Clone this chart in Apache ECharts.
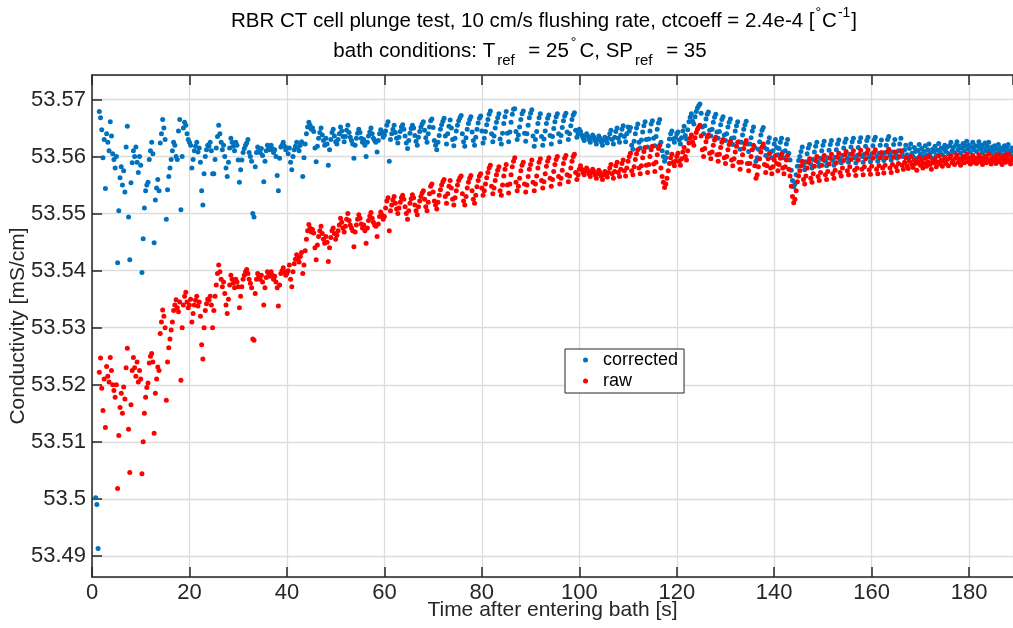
<!DOCTYPE html>
<html><head><meta charset="utf-8">
<script src="https://cdn.jsdelivr.net/npm/echarts@6/dist/echarts.min.js"></script>
<style>html,body{margin:0;padding:0;background:#fff}#c{width:1013px;height:628px}</style>
</head><body><div id="c"></div>
<script>
// Sampling: each part starts at partStart[k] and values are spaced timeStep seconds apart
const timeStep = 0.25;
const partStart = [0.25, 40.25, 80.25, 120.25, 160.25];
const xTicks = [0, 20, 40, 60, 80, 100, 120, 140, 160, 180];
const seriesNames = ['corrected', 'raw'];

const corrected1 = [
null,null,53.5002,53.4990,53.4913,53.5679,53.5668,53.5647,
53.5598,53.5630,53.5544,53.5640,53.5625,53.5610,53.5661,53.5636,
53.5605,53.5595,53.5580,53.5600,53.5414,53.5505,53.5563,53.5582,
53.5550,53.5575,53.5538,53.5617,53.5653,53.5494,53.5419,53.5554,
53.5589,53.5610,53.5600,53.5617,53.5590,53.5572,53.5600,53.5585,
53.5397,53.5456,53.5510,53.5540,53.5550,53.5555,53.5595,53.5610,
53.5625,53.5605,53.5449,53.5524,53.5545,53.5560,53.5540,53.5624,
53.5640,53.5665,53.5650,53.5630,53.5490,53.5542,53.5565,53.5580,
53.5595,53.5610,53.5625,53.5620,53.5600,53.5595,53.5645,53.5665,
53.5507,53.5600,53.5650,53.5660,53.5655,53.5640,53.5630,53.5625,
53.5620,53.5580,53.5595,53.5610,53.5618,53.5625,53.5608,53.5615,
53.5590,53.5540,53.5515,53.5570,53.5600,53.5612,53.5620,53.5618,
53.5625,53.5610,53.5570,53.5570,53.5595,53.5615,53.5635,53.5655,
53.5640,53.5625,53.5612,53.5620,53.5600,53.5580,53.5565,53.5590,
53.5615,53.5632,53.5625,53.5618,53.5610,53.5625,53.5620,53.5594,
53.5555,53.5577,53.5594,53.5607,53.5614,53.5620,53.5624,53.5630,
53.5607,53.5600,53.5592,53.5500,53.5494,53.5582,53.5607,53.5617,
53.5612,53.5607,53.5614,53.5602,53.5556,53.5592,53.5610,53.5620,
53.5617,53.5612,53.5620,53.5614,53.5607,53.5612,53.5600,53.5567,
53.5540,53.5597,53.5617,53.5620,53.5625,53.5618,53.5612,53.5615];
const raw1 = [
null,null,null,null,null,53.5222,53.5247,53.5194,
53.5155,53.5210,53.5125,53.5232,53.5215,53.5205,53.5248,53.5225,
53.5200,53.5190,53.5178,53.5200,53.5018,53.5111,53.5160,53.5185,
53.5150,53.5196,53.5175,53.5230,53.5264,53.5122,53.5046,53.5165,
53.5225,53.5248,53.5230,53.5215,53.5240,53.5205,53.5225,53.5210,
53.5044,53.5100,53.5150,53.5178,53.5195,53.5203,53.5238,53.5250,
53.5255,53.5240,53.5115,53.5185,53.5210,53.5231,53.5225,53.5290,
53.5310,53.5331,53.5320,53.5300,53.5173,53.5240,53.5265,53.5280,
53.5296,53.5310,53.5330,53.5340,53.5349,53.5335,53.5328,53.5345,
53.5208,53.5300,53.5340,53.5355,53.5362,53.5345,53.5335,53.5340,
53.5350,53.5310,53.5325,53.5340,53.5348,53.5355,53.5338,53.5345,
53.5320,53.5270,53.5245,53.5300,53.5330,53.5342,53.5350,53.5348,
53.5355,53.5340,53.5300,53.5330,53.5355,53.5375,53.5395,53.5410,
53.5398,53.5385,53.5372,53.5380,53.5360,53.5340,53.5325,53.5350,
53.5375,53.5392,53.5385,53.5378,53.5370,53.5385,53.5380,53.5372,
53.5335,53.5355,53.5372,53.5385,53.5392,53.5398,53.5402,53.5395,
53.5385,53.5378,53.5370,53.5280,53.5278,53.5360,53.5385,53.5395,
53.5390,53.5385,53.5392,53.5380,53.5340,53.5370,53.5388,53.5398,
53.5395,53.5390,53.5398,53.5392,53.5385,53.5390,53.5380,53.5370,
53.5338,53.5375,53.5395,53.5400,53.5405,53.5398,53.5392,53.5395];

const corrected2 = [
53.5605,53.5615,53.5590,53.5577,53.5600,53.5612,53.5618,53.5625,
53.5616,53.5610,53.5620,53.5626,53.5565,53.5598,53.5622,53.5640,
53.5652,53.5660,53.5655,53.5648,53.5650,53.5644,53.5615,53.5591,
53.5618,53.5632,53.5642,53.5650,53.5638,53.5628,53.5620,53.5632,
53.5622,53.5585,53.5612,53.5630,53.5642,53.5648,53.5636,53.5626,
53.5622,53.5630,53.5640,53.5652,53.5645,53.5635,53.5626,53.5635,
53.5646,53.5655,53.5642,53.5634,53.5628,53.5622,53.5597,53.5620,
53.5632,53.5641,53.5648,53.5642,53.5632,53.5625,53.5630,53.5620,
53.5600,53.5625,53.5636,53.5643,53.5650,53.5640,53.5632,53.5628,
53.5625,53.5608,53.5628,53.5640,53.5647,53.5642,53.5634,53.5638,
53.5645,53.5655,53.5661,53.5592,53.5630,53.5640,53.5648,53.5655,
53.5642,53.5632,53.5624,53.5634,53.5644,53.5652,53.5656,53.5648,
53.5636,53.5624,53.5614,53.5628,53.5641,53.5649,53.5655,53.5650,
53.5637,53.5627,53.5620,53.5634,53.5644,53.5652,53.5657,53.5661,
53.5646,53.5633,53.5625,53.5640,53.5652,53.5663,53.5666,53.5651,
53.5628,53.5620,53.5612,53.5625,53.5637,53.5648,53.5656,53.5662,
53.5667,53.5636,53.5622,53.5640,53.5653,53.5664,53.5650,53.5630,
53.5619,53.5632,53.5645,53.5655,53.5663,53.5668,53.5672,53.5640,
53.5626,53.5618,53.5633,53.5648,53.5658,53.5665,53.5670,53.5643,
53.5628,53.5620,53.5634,53.5648,53.5659,53.5667,53.5671,53.5645];
const raw2 = [
53.5400,53.5410,53.5385,53.5372,53.5398,53.5412,53.5420,53.5428,
53.5420,53.5415,53.5425,53.5432,53.5395,53.5410,53.5435,53.5455,
53.5470,53.5481,53.5475,53.5468,53.5472,53.5466,53.5440,53.5419,
53.5445,53.5460,53.5470,53.5478,53.5465,53.5455,53.5448,53.5460,
53.5450,53.5416,53.5440,53.5458,53.5470,53.5475,53.5465,53.5455,
53.5462,53.5470,53.5480,53.5492,53.5485,53.5475,53.5468,53.5478,
53.5490,53.5500,53.5488,53.5480,53.5475,53.5470,53.5442,53.5468,
53.5480,53.5490,53.5498,53.5492,53.5482,53.5475,53.5480,53.5470,
53.5448,53.5475,53.5488,53.5496,53.5502,53.5492,53.5485,53.5480,
53.5478,53.5460,53.5482,53.5495,53.5503,53.5498,53.5490,53.5495,
53.5510,53.5522,53.5528,53.5470,53.5505,53.5515,53.5524,53.5530,
53.5518,53.5508,53.5500,53.5510,53.5520,53.5528,53.5532,53.5525,
53.5512,53.5500,53.5490,53.5505,53.5518,53.5526,53.5533,53.5528,
53.5515,53.5505,53.5498,53.5512,53.5522,53.5530,53.5536,53.5540,
53.5525,53.5512,53.5505,53.5520,53.5535,53.5548,53.5552,53.5538,
53.5522,53.5515,53.5508,53.5520,53.5532,53.5542,53.5550,53.5556,
53.5560,53.5530,53.5518,53.5535,53.5548,53.5558,53.5545,53.5525,
53.5515,53.5528,53.5540,53.5550,53.5558,53.5563,53.5566,53.5535,
53.5522,53.5515,53.5530,53.5545,53.5555,53.5562,53.5567,53.5540,
53.5525,53.5518,53.5532,53.5547,53.5558,53.5566,53.5570,53.5545];

const corrected3 = [
53.5624,53.5632,53.5644,53.5656,53.5665,53.5674,53.5680,53.5640,
53.5626,53.5636,53.5650,53.5660,53.5668,53.5675,53.5631,53.5622,
53.5641,53.5658,53.5670,53.5679,53.5641,53.5626,53.5643,53.5660,
53.5674,53.5683,53.5684,53.5644,53.5630,53.5638,53.5652,53.5665,
53.5675,53.5680,53.5641,53.5627,53.5640,53.5655,53.5668,53.5676,
53.5682,53.5636,53.5618,53.5630,53.5644,53.5658,53.5668,53.5675,
53.5635,53.5620,53.5631,53.5645,53.5658,53.5667,53.5673,53.5637,
53.5622,53.5635,53.5649,53.5661,53.5670,53.5675,53.5640,53.5626,
53.5637,53.5651,53.5663,53.5671,53.5676,53.5643,53.5630,53.5640,
53.5654,53.5665,53.5673,53.5677,53.5646,53.5634,53.5640,53.5648,
53.5644,53.5638,53.5633,53.5628,53.5635,53.5640,53.5636,53.5630,
53.5625,53.5632,53.5638,53.5634,53.5628,53.5622,53.5630,53.5636,
53.5632,53.5626,53.5620,53.5628,53.5634,53.5630,53.5624,53.5632,
53.5640,53.5646,53.5630,53.5622,53.5634,53.5644,53.5650,53.5632,
53.5625,53.5638,53.5648,53.5654,53.5635,53.5626,53.5640,53.5652,
53.5645,53.5651,53.5620,53.5613,53.5627,53.5640,53.5650,53.5657,
53.5625,53.5615,53.5629,53.5643,53.5654,53.5661,53.5630,53.5617,
53.5631,53.5645,53.5657,53.5663,53.5632,53.5619,53.5635,53.5648,
53.5659,53.5665,53.5625,53.5610,53.5600,53.5592,53.5598,53.5607,
53.5619,53.5631,53.5640,53.5645,53.5631,53.5625,53.5633,53.5640];
const raw3 = [
53.5532,53.5540,53.5552,53.5563,53.5572,53.5580,53.5585,53.5548,
53.5535,53.5545,53.5558,53.5568,53.5576,53.5582,53.5540,53.5532,
53.5550,53.5566,53.5578,53.5586,53.5550,53.5536,53.5552,53.5568,
53.5582,53.5592,53.5598,53.5555,53.5540,53.5548,53.5562,53.5575,
53.5585,53.5590,53.5552,53.5538,53.5550,53.5565,53.5578,53.5586,
53.5594,53.5555,53.5540,53.5552,53.5566,53.5580,53.5590,53.5596,
53.5558,53.5545,53.5556,53.5570,53.5583,53.5592,53.5598,53.5562,
53.5548,53.5560,53.5574,53.5586,53.5595,53.5600,53.5565,53.5552,
53.5562,53.5576,53.5588,53.5597,53.5602,53.5568,53.5556,53.5566,
53.5580,53.5592,53.5600,53.5604,53.5572,53.5560,53.5568,53.5578,
53.5584,53.5578,53.5572,53.5568,53.5575,53.5580,53.5576,53.5570,
53.5565,53.5572,53.5578,53.5574,53.5568,53.5562,53.5570,53.5576,
53.5572,53.5566,53.5560,53.5568,53.5574,53.5570,53.5564,53.5572,
53.5580,53.5586,53.5570,53.5562,53.5574,53.5584,53.5590,53.5572,
53.5565,53.5578,53.5588,53.5594,53.5575,53.5566,53.5580,53.5592,
53.5600,53.5606,53.5575,53.5568,53.5582,53.5595,53.5605,53.5612,
53.5580,53.5570,53.5584,53.5598,53.5609,53.5616,53.5585,53.5572,
53.5586,53.5600,53.5612,53.5618,53.5587,53.5574,53.5590,53.5603,
53.5614,53.5620,53.5580,53.5565,53.5555,53.5546,53.5552,53.5562,
53.5575,53.5588,53.5598,53.5604,53.5590,53.5584,53.5592,53.5600];

const corrected4 = [
53.5643,53.5629,53.5622,53.5633,53.5645,53.5653,53.5637,53.5631,
53.5647,53.5661,53.5669,53.5675,53.5662,53.5657,53.5670,53.5679,
53.5685,53.5689,53.5692,53.5676,53.5652,53.5640,53.5654,53.5666,
53.5674,53.5678,53.5646,53.5636,53.5648,53.5660,53.5669,53.5674,
53.5643,53.5632,53.5644,53.5656,53.5665,53.5670,53.5638,53.5628,
53.5640,53.5652,53.5660,53.5666,53.5632,53.5621,53.5633,53.5645,
53.5654,53.5661,53.5626,53.5613,53.5625,53.5638,53.5648,53.5656,
53.5662,53.5622,53.5609,53.5622,53.5633,53.5645,53.5652,53.5616,
53.5592,53.5598,53.5613,53.5626,53.5638,53.5646,53.5651,53.5616,
53.5602,53.5613,53.5625,53.5633,53.5608,53.5598,53.5610,53.5622,
53.5630,53.5616,53.5603,53.5614,53.5625,53.5632,53.5608,53.5598,
53.5610,53.5622,53.5630,53.5606,53.5594,53.5576,53.5558,53.5547,
53.5552,53.5568,53.5583,53.5593,53.5600,53.5609,53.5617,53.5585,
53.5577,53.5591,53.5605,53.5615,53.5621,53.5587,53.5580,53.5595,
53.5608,53.5618,53.5625,53.5590,53.5583,53.5597,53.5610,53.5620,
53.5627,53.5592,53.5584,53.5598,53.5611,53.5621,53.5628,53.5593,
53.5585,53.5599,53.5612,53.5622,53.5629,53.5595,53.5589,53.5602,
53.5615,53.5625,53.5631,53.5597,53.5590,53.5604,53.5617,53.5626,
53.5632,53.5598,53.5589,53.5602,53.5616,53.5626,53.5633,53.5600,
53.5590,53.5604,53.5618,53.5628,53.5634,53.5599,53.5591,53.5605];
const raw4 = [
53.5606,53.5592,53.5585,53.5596,53.5608,53.5616,53.5600,53.5594,
53.5610,53.5624,53.5632,53.5638,53.5625,53.5620,53.5633,53.5642,
53.5648,53.5652,53.5655,53.5636,53.5612,53.5600,53.5614,53.5626,
53.5634,53.5638,53.5606,53.5596,53.5608,53.5620,53.5629,53.5634,
53.5603,53.5592,53.5604,53.5616,53.5625,53.5630,53.5598,53.5588,
53.5600,53.5612,53.5621,53.5627,53.5594,53.5584,53.5596,53.5608,
53.5618,53.5625,53.5590,53.5578,53.5590,53.5603,53.5614,53.5622,
53.5628,53.5588,53.5575,53.5588,53.5600,53.5612,53.5620,53.5584,
53.5562,53.5568,53.5582,53.5596,53.5608,53.5617,53.5622,53.5586,
53.5572,53.5584,53.5596,53.5605,53.5580,53.5570,53.5582,53.5594,
53.5602,53.5588,53.5575,53.5586,53.5597,53.5604,53.5580,53.5570,
53.5582,53.5594,53.5602,53.5578,53.5566,53.5548,53.5530,53.5519,
53.5525,53.5540,53.5556,53.5566,53.5575,53.5584,53.5592,53.5560,
53.5552,53.5566,53.5580,53.5590,53.5596,53.5562,53.5555,53.5570,
53.5583,53.5593,53.5600,53.5565,53.5558,53.5572,53.5585,53.5595,
53.5602,53.5568,53.5560,53.5574,53.5587,53.5597,53.5604,53.5570,
53.5562,53.5576,53.5589,53.5599,53.5606,53.5572,53.5566,53.5580,
53.5593,53.5603,53.5609,53.5575,53.5568,53.5582,53.5595,53.5604,
53.5610,53.5576,53.5567,53.5580,53.5594,53.5604,53.5611,53.5578,
53.5568,53.5582,53.5596,53.5606,53.5612,53.5577,53.5569,53.5583];

const corrected5 = [
53.5619,53.5629,53.5634,53.5600,53.5592,53.5606,53.5620,53.5629,
53.5602,53.5593,53.5607,53.5620,53.5630,53.5635,53.5602,53.5594,
53.5608,53.5621,53.5630,53.5604,53.5597,53.5610,53.5622,53.5632,
53.5607,53.5600,53.5612,53.5620,53.5603,53.5598,53.5614,53.5622,
53.5606,53.5600,53.5616,53.5609,53.5596,53.5611,53.5621,53.5605,
53.5614,53.5600,53.5609,53.5619,53.5603,53.5612,53.5622,53.5606,
53.5598,53.5613,53.5609,53.5618,53.5602,53.5611,53.5623,53.5607,
53.5615,53.5603,53.5613,53.5620,53.5609,53.5617,53.5605,53.5619,
53.5625,53.5610,53.5616,53.5607,53.5620,53.5626,53.5612,53.5618,
53.5606,53.5615,53.5623,53.5610,53.5619,53.5627,53.5613,53.5620,
53.5608,53.5617,53.5625,53.5612,53.5619,53.5609,53.5618,53.5626,
53.5613,53.5620,53.5607,53.5616,53.5624,53.5610,53.5618,53.5625,
53.5612,53.5606,53.5617,53.5611,53.5619,53.5605,53.5613,53.5621,
53.5608,53.5615,53.5603,53.5612,53.5619,53.5606,53.5614,53.5621,
53.5609,53.5603,53.5615,53.5610];
const raw5 = [
53.5597,53.5607,53.5612,53.5578,53.5570,53.5584,53.5598,53.5607,
53.5580,53.5571,53.5585,53.5598,53.5608,53.5613,53.5580,53.5572,
53.5586,53.5599,53.5608,53.5582,53.5575,53.5588,53.5600,53.5610,
53.5585,53.5578,53.5590,53.5598,53.5584,53.5579,53.5592,53.5600,
53.5586,53.5581,53.5594,53.5588,53.5576,53.5590,53.5599,53.5585,
53.5593,53.5580,53.5588,53.5597,53.5583,53.5591,53.5600,53.5586,
53.5578,53.5592,53.5589,53.5596,53.5582,53.5590,53.5601,53.5587,
53.5594,53.5583,53.5592,53.5599,53.5588,53.5595,53.5584,53.5597,
53.5602,53.5589,53.5594,53.5586,53.5598,53.5603,53.5590,53.5596,
53.5585,53.5593,53.5600,53.5589,53.5597,53.5604,53.5591,53.5598,
53.5587,53.5595,53.5602,53.5590,53.5597,53.5588,53.5596,53.5603,
53.5591,53.5598,53.5586,53.5594,53.5601,53.5589,53.5596,53.5604,
53.5592,53.5587,53.5598,53.5593,53.5600,53.5588,53.5595,53.5603,
53.5591,53.5597,53.5586,53.5594,53.5601,53.5590,53.5597,53.5604,
53.5592,53.5587,53.5598,53.5594];

function toPoints(parts) {
  const pts = [];
  parts.forEach((arr, k) => arr.forEach((v, i) => {
    if (v !== null) pts.push([+(partStart[k] + i * timeStep).toFixed(2), v]);
  }));
  return pts;
}
const correctedPts = toPoints([corrected1, corrected2, corrected3, corrected4, corrected5]);
const rawPts = toPoints([raw1, raw2, raw3, raw4, raw5]);

const FONT = '"Liberation Sans", Arial, Helvetica, sans-serif';
const AX = '#262626';
const GRIDC = '#dcdcdc';
const chart = echarts.init(document.getElementById('c'), null, {renderer: 'canvas'});

const supStyle = {fontSize: 14, lineHeight: 14, padding: [0, 1, 15, 1], fontFamily: FONT, fill: '#000', color: '#000'};
const sup2Style = {fontSize: 14, lineHeight: 14, padding: [0, 3, 15, 2], fontFamily: FONT, fill: '#000', color: '#000'};
const subStyle = {fontSize: 15, lineHeight: 15, padding: [19, 8, 0, 2], fontFamily: FONT, fill: '#000', color: '#000'};

const option = {
  animation: false,
  backgroundColor: '#ffffff',
  grid: {left: 92, right: 0, top: 75, bottom: 51, containLabel: false, outerBoundsMode: 'none'},
  xAxis: [{
    type: 'value', position: 'bottom', min: 0, max: 189, interval: 20,
    name: 'Time after entering bath [s]', nameLocation: 'middle', nameGap: 23, nameMoveOverlap: false,
    nameTextStyle: {fontSize: 21, color: AX, fontFamily: FONT},
    axisLine: {show: true, onZero: false, lineStyle: {color: AX, width: 1.5}},
    axisTick: {show: true, inside: true, length: 10, lineStyle: {color: AX, width: 1.5}},
    axisLabel: {show: true, margin: 5, fontSize: 22, color: AX, fontFamily: FONT, showMaxLabel: false,
      formatter: v => xTicks.includes(v) ? String(v) : ''},
    splitLine: {show: true, lineStyle: {color: GRIDC, width: 1.3}}
  }, {
    type: 'value', position: 'top', min: 0, max: 189, interval: 20,
    axisLine: {show: true, onZero: false, lineStyle: {color: AX, width: 1.5}},
    axisTick: {show: true, inside: true, length: 10, lineStyle: {color: AX, width: 1.5}},
    axisLabel: {show: false}, splitLine: {show: false}
  }],
  yAxis: [{
    type: 'value', min: 53.4863, max: 53.5743, splitNumber: 9,
    name: 'Conductivity [mS/cm]', nameLocation: 'middle', nameGap: 63, nameMoveOverlap: false,
    nameTextStyle: {fontSize: 21, color: AX, fontFamily: FONT},
    axisLine: {show: true, onZero: false, lineStyle: {color: AX, width: 1.5}},
    axisTick: {show: true, inside: true, length: 10, lineStyle: {color: AX, width: 1.5}},
    axisLabel: {show: true, margin: 6, fontSize: 22, color: AX, fontFamily: FONT,
      showMinLabel: false, showMaxLabel: false,
      formatter: v => { const r = Math.round(v * 100) / 100; return Math.abs(v - r) < 1e-7 ? String(r) : ''; }},
    splitLine: {show: true, lineStyle: {color: GRIDC, width: 1.3}}
  }],
  legend: {
    show: true, orient: 'vertical', left: 565, top: 349,
    data: seriesNames, icon: 'circle', itemWidth: 25, itemHeight: 5, itemGap: 3,
    padding: [2, 6, 3, 18], borderColor: AX, borderWidth: 1, borderRadius: 0, backgroundColor: '#ffffff',
    textStyle: {fontSize: 18, color: '#000', fontFamily: FONT, lineHeight: 18}
  },
  graphic: [
    {type: 'text', x: 544, y: 21, z: 100, style: {
      text: 'RBR CT cell plunge test, 10 cm/s flushing rate, ctcoeff = 2.4e-4 [{sup|°}C{sup|-1}]',
      fontSize: 20.5, lineHeight: 25, fontFamily: FONT, fill: '#000', align: 'center', verticalAlign: 'middle',
      rich: {sup: supStyle}}},
    {type: 'text', x: 520, y: 51, z: 100, style: {
      text: 'bath conditions: T{sub|ref} = 25{sup|°}C, SP{sub|ref} = 35',
      fontSize: 20.5, lineHeight: 25, fontFamily: FONT, fill: '#000', align: 'center', verticalAlign: 'middle',
      rich: {sup: sup2Style, sub: subStyle}}}
  ],
  series: [
    {type: 'scatter', name: seriesNames[0], data: correctedPts, symbol: 'circle', symbolSize: 5,
      itemStyle: {color: '#0072BD', opacity: 1}, xAxisIndex: 0, yAxisIndex: 0, z: 2},
    {type: 'scatter', name: seriesNames[1], data: rawPts, symbol: 'circle', symbolSize: 5,
      itemStyle: {color: '#FF0000', opacity: 1}, xAxisIndex: 0, yAxisIndex: 0, z: 3}
  ]
};
chart.setOption(option);
</script></body></html>
